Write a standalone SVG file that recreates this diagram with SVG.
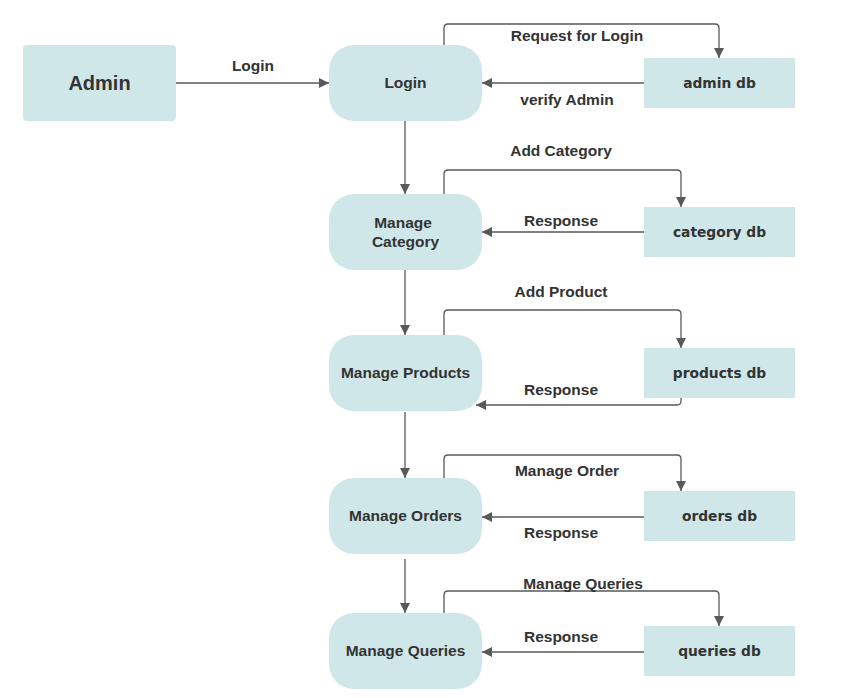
<svg xmlns="http://www.w3.org/2000/svg" width="866" height="698" viewBox="0 0 866 698">
<defs>
<marker id="ah" viewBox="0 0 10 10" refX="10" refY="5" markerWidth="10" markerHeight="10" markerUnits="userSpaceOnUse" orient="auto">
<path d="M0,0 L10,5 L0,10 Z" fill="#595959"/>
</marker>
<style>
.proc{fill:#cfe7e8;}
.db{fill:#cfe7e8;}
.t{font-family:"Liberation Sans",Arial,sans-serif;font-weight:bold;font-size:15.5px;fill:#333333;text-anchor:middle;dominant-baseline:central;}
.dbt{font-family:"DejaVu Sans",Verdana,sans-serif;font-weight:bold;font-size:13.8px;fill:#333333;text-anchor:middle;dominant-baseline:central;}
.c{fill:none;stroke:#595959;stroke-width:1.3;marker-end:url(#ah);}
</style>
</defs>
<rect width="866" height="698" fill="#ffffff"/>
<g id="connectors">
<path class="c" d="M176,83 H329"/>
<text class="t" x="253" y="65.5">Login</text>
<path class="c" d="M444,45 V28 Q444,24 448,24 H715 Q719,24 719,28 V58"/>
<text class="t" x="577" y="35.5">Request for Login</text>
<path class="c" d="M644,83 H482"/>
<text class="t" x="567" y="99.5">verify Admin</text>
<path class="c" d="M405,121 V194"/>
<path class="c" d="M444,194 V174 Q444,170 448,170 H677 Q681,170 681,174 V207"/>
<text class="t" x="561" y="150.5">Add Category</text>
<path class="c" d="M644,232 H482"/>
<text class="t" x="561" y="220.5">Response</text>
<path class="c" d="M405,270 V335"/>
<path class="c" d="M444,335 V314 Q444,310 448,310 H677 Q681,310 681,314 V348"/>
<text class="t" x="561" y="291.5">Add Product</text>
<path class="c" d="M681,398 V401 Q681,405 677,405 H476"/>
<text class="t" x="561" y="389.5">Response</text>
<path class="c" d="M405,412 V478"/>
<path class="c" d="M444,478 V459 Q444,455 448,455 H677 Q681,455 681,459 V491"/>
<text class="t" x="567" y="470.5">Manage Order</text>
<path class="c" d="M644,517 H482"/>
<text class="t" x="561" y="532.5">Response</text>
<path class="c" d="M405,559 V613"/>
<path class="c" d="M444,613 V595 Q444,591 448,591 H715 Q719,591 719,595 V626"/>
<text class="t" x="583" y="583.5">Manage Queries</text>
<path class="c" d="M644,652 H482"/>
<text class="t" x="561" y="636.5">Response</text>
</g>
<g id="admin">
<rect class="proc" x="23" y="45" width="153" height="76" rx="4"/>
<text class="t" x="99.5" y="82.5" style="font-size:20px">Admin</text>
</g>
<g id="login">
<rect class="proc" x="329" y="45" width="153" height="76" rx="25"/>
<text class="t" x="405.5" y="82.5">Login</text>
</g>
<g id="admin-db">
<rect class="db" x="644" y="58" width="151" height="50"/>
<text class="dbt" x="719.5" y="82.5">admin db</text>
</g>
<g id="manage-category">
<rect class="proc" x="329" y="194" width="153" height="76" rx="25"/>
<text class="t" x="403" y="222.5">Manage</text>
<text class="t" x="405.5" y="241.5">Category</text>
</g>
<g id="category-db">
<rect class="db" x="644" y="207" width="151" height="50"/>
<text class="dbt" x="719.5" y="231.5">category db</text>
</g>
<g id="manage-products">
<rect class="proc" x="329" y="335" width="153" height="76" rx="25"/>
<text class="t" x="405.5" y="372.5">Manage Products</text>
</g>
<g id="products-db">
<rect class="db" x="644" y="348" width="151" height="50"/>
<text class="dbt" x="719.5" y="372.5">products db</text>
</g>
<g id="manage-orders">
<rect class="proc" x="329" y="478" width="153" height="76" rx="25"/>
<text class="t" x="405.5" y="515.5">Manage Orders</text>
</g>
<g id="orders-db">
<rect class="db" x="644" y="491" width="151" height="50"/>
<text class="dbt" x="719.5" y="515.5">orders db</text>
</g>
<g id="manage-queries">
<rect class="proc" x="329" y="613" width="153" height="76" rx="25"/>
<text class="t" x="405.5" y="650.5">Manage Queries</text>
</g>
<g id="queries-db">
<rect class="db" x="644" y="626" width="151" height="50"/>
<text class="dbt" x="719.5" y="650.5">queries db</text>
</g>
</svg>
